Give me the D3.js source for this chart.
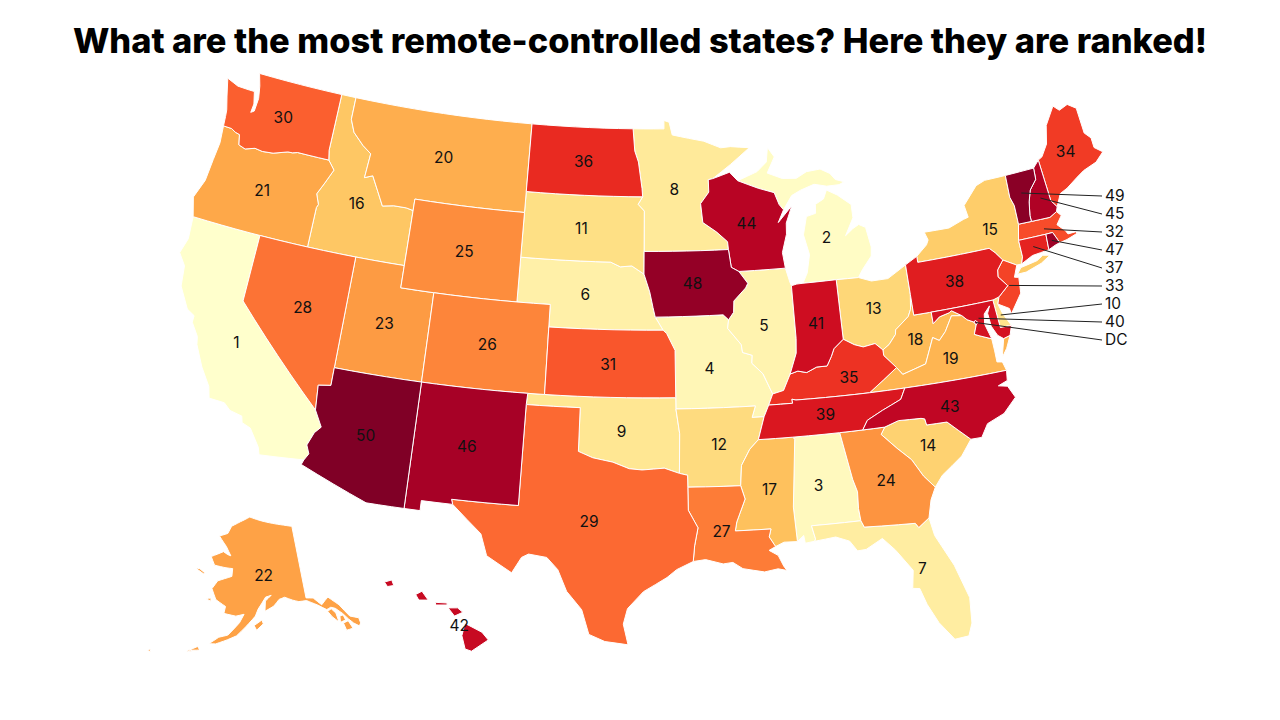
<!DOCTYPE html>
<html>
<head>
<meta charset="utf-8">
<script src="https://cdn.jsdelivr.net/npm/d3@7"></script>
<style>
  body { margin: 0; background: #fff; }
  text { font-family: "Inter", "Open Sans", sans-serif; fill: #111; }
  .title { fill: #000; }
</style>
</head>
<body>
<svg id="map" width="1280" height="720"></svg>
<script>
// Rank of every state, 1 = least remote-controlled
const stateIds = ["CA","MI","AL","MO","IL","NE","FL","MN","OK","DE","SD","AR","OH","SC","NY","ID","MS","WV","VA","MT","OR","AK","UT","GA","WY","CO","LA","NV","TX","WA","KS","MA","NJ","ME","KY","ND","CT","PA","TN","MD","IN","HI","NC","WI","NH","NM","RI","IA","VT","AZ"];
const stateRanks = d3.range(1, 51);
const dcRank = 46; // DC has no number in the picture, only its own dark fill

// Small states that are labelled at the right, top to bottom
const calloutIds = ["VT","NH","MA","RI","CT","NJ","DE","MD","DC"];
const calloutLabels = ["49","45","32","47","37","33","10","40","DC"];

const titleText = "What are the most remote-controlled states? Here they are ranked!";

// State outlines as [lon, lat] rings
const outlines = {
  WA: [[[-124.7,48.38],[-123.9,48.17],[-123.1,48.15],[-122.75,48.15],[-122.55,47.6],[-122.6,47.2],[-122.4,47.3],[-122.35,47.9],[-122.5,48.45],[-122.75,49],[-117.03,49],[-117.04,46.42],[-116.92,45.99],[-118.98,46],[-119.3,45.93],[-119.6,45.92],[-120.5,45.7],[-121.2,45.65],[-121.7,45.7],[-122.3,45.55],[-122.75,45.65],[-122.9,46.1],[-123.2,46.15],[-123.5,46.26],[-124.05,46.27],[-124.1,46.7],[-124.15,47],[-124.4,47.6]]],
  OR: [[[-124.05,46.27],[-123.5,46.26],[-123.2,46.15],[-122.9,46.1],[-122.75,45.65],[-122.3,45.55],[-121.7,45.7],[-121.2,45.65],[-120.5,45.7],[-119.6,45.92],[-119.3,45.93],[-118.98,46],[-116.92,45.99],[-116.46,45.6],[-116.85,44.95],[-117.2,44.4],[-116.95,43.95],[-117.03,43.8],[-117.03,42],[-124.21,42],[-124.55,42.84],[-124.15,43.7],[-124.05,44.7],[-123.95,45.5]]],
  CA: [[[-124.21,42],[-120,42],[-120,39],[-114.63,35],[-114.14,34.3],[-114.45,34],[-114.72,33.4],[-114.52,33.03],[-114.72,32.72],[-117.12,32.53],[-117.25,32.85],[-117.9,33.6],[-118.4,33.75],[-118.5,34.03],[-119.2,34.15],[-119.6,34.42],[-120.47,34.45],[-120.65,34.95],[-121.3,35.7],[-121.9,36.6],[-122,36.95],[-122.5,37.5],[-122.5,37.8],[-122.98,38],[-123.7,38.9],[-123.85,39.8],[-124.35,40.3],[-124.1,41]]],
  NV: [[[-120,42],[-114.04,42],[-114.05,36.2],[-114.75,36.1],[-114.63,35],[-120,39]]],
  ID: [[[-117.03,49],[-116.05,49],[-116.05,48],[-115.7,47.45],[-114.95,46.95],[-114.35,46.65],[-114.45,45.55],[-113.95,45.7],[-113.45,45.05],[-113,44.45],[-112.3,44.55],[-111.5,44.55],[-111.05,44.48],[-111.05,42],[-117.03,42],[-117.03,43.8],[-116.95,43.95],[-117.2,44.4],[-116.85,44.95],[-116.46,45.6],[-116.92,45.99],[-117.04,46.42]]],
  MT: [[[-116.05,49],[-104.05,49],[-104.05,45],[-111.05,45],[-111.05,44.48],[-111.5,44.55],[-112.3,44.55],[-113,44.45],[-113.45,45.05],[-113.95,45.7],[-114.45,45.55],[-114.35,46.65],[-114.95,46.95],[-115.7,47.45],[-116.05,48]]],
  WY: [[[-111.05,45],[-104.05,45],[-104.05,41],[-111.05,41]]],
  UT: [[[-114.04,42],[-111.05,42],[-111.05,41],[-109.05,41],[-109.05,37],[-114.05,37]]],
  CO: [[[-109.05,41],[-102.05,41],[-102.05,37],[-109.05,37]]],
  AZ: [[[-114.05,37],[-109.05,37],[-109.05,31.33],[-111.07,31.33],[-114.81,32.5],[-114.72,32.72],[-114.52,33.03],[-114.72,33.4],[-114.45,34],[-114.14,34.3],[-114.63,35],[-114.75,36.1],[-114.05,36.2]]],
  NM: [[[-109.05,37],[-103,37],[-103.04,36.5],[-103.06,32],[-106.62,32],[-106.53,31.78],[-108.2,31.78],[-108.2,31.33],[-109.05,31.33]]],
  TX: [[[-103.04,36.5],[-100,36.5],[-100,34.56],[-99.2,34.3],[-98.1,34.13],[-97.2,33.85],[-96.5,33.8],[-95.3,33.88],[-94.48,33.64],[-94.04,33.55],[-94.04,33.02],[-94.04,31.99],[-93.55,31.2],[-93.75,30.4],[-93.84,29.7],[-94.7,29.35],[-95.2,29],[-96.4,28.37],[-97.2,27.6],[-97.4,26.9],[-97.15,25.97],[-97.65,26.03],[-98.3,26.1],[-99.1,26.4],[-99.5,27.5],[-100.3,28.3],[-100.8,29.25],[-101.4,29.77],[-102.35,29.87],[-102.7,29.7],[-103.15,28.98],[-104.5,29.65],[-104.9,30.6],[-106.53,31.78],[-106.62,32],[-103.06,32]]],
  OK: [[[-103,37],[-102.05,37],[-94.62,37],[-94.62,36.5],[-94.43,35.4],[-94.48,33.64],[-95.3,33.88],[-96.5,33.8],[-97.2,33.85],[-98.1,34.13],[-99.2,34.3],[-100,34.56],[-100,36.5],[-103.04,36.5]]],
  KS: [[[-102.05,40],[-95.31,40],[-95.1,39.85],[-94.62,39.1],[-94.62,37],[-102.05,37]]],
  NE: [[[-104.05,43],[-98.5,43],[-97.9,42.8],[-97.2,42.85],[-96.45,42.49],[-96.1,41.7],[-95.9,41],[-95.77,40.58],[-95.31,40],[-102.05,40],[-102.05,41],[-104.05,41]]],
  SD: [[[-104.05,45.94],[-96.56,45.94],[-96.85,45.6],[-96.45,45.3],[-96.45,43.5],[-96.45,42.49],[-97.2,42.85],[-97.9,42.8],[-98.5,43],[-104.05,43]]],
  ND: [[[-104.05,49],[-97.23,49],[-97.1,48],[-96.85,47.5],[-96.6,46.3],[-96.56,45.94],[-104.05,45.94]]],
  MN: [[[-97.23,49],[-95.15,49],[-95.15,49.38],[-94.8,49.3],[-94.6,48.72],[-93.5,48.55],[-92.5,48.4],[-91.4,48.07],[-90.75,48.1],[-89.5,48],[-90.8,47.3],[-92,46.7],[-92.3,46.66],[-92.3,46.1],[-92.85,45.6],[-92.75,44.75],[-91.9,44.3],[-91.25,43.85],[-91.22,43.5],[-96.45,43.5],[-96.45,45.3],[-96.85,45.6],[-96.56,45.94],[-96.6,46.3],[-96.85,47.5],[-97.1,48]]],
  IA: [[[-96.45,43.5],[-91.22,43.5],[-91.1,42.7],[-90.65,42.5],[-90.15,41.95],[-90.3,41.75],[-91.05,41.2],[-91.1,40.7],[-91.42,40.38],[-91.73,40.61],[-95.77,40.58],[-95.9,41],[-96.1,41.7],[-96.45,42.49]]],
  MO: [[[-95.77,40.58],[-91.73,40.61],[-91.42,40.38],[-91.5,40],[-90.75,39.25],[-90.7,38.9],[-90.15,38.75],[-90.2,38.4],[-89.6,37.9],[-89.13,36.98],[-89.4,36.5],[-89.7,36],[-90.37,36],[-90.15,36.5],[-94.62,36.5],[-94.62,37],[-94.62,39.1],[-95.1,39.85],[-95.31,40]]],
  AR: [[[-94.62,36.5],[-90.15,36.5],[-90.37,36],[-89.7,36],[-90.1,35],[-90.6,34.6],[-91.1,33.9],[-91.2,33],[-94.04,33.02],[-94.04,33.55],[-94.48,33.64],[-94.43,35.4]]],
  LA: [[[-94.04,33.02],[-91.2,33],[-91,32.4],[-91.5,31.4],[-91.6,31],[-89.73,31],[-89.85,30.65],[-89.55,30.2],[-89.9,30.05],[-89.45,29.8],[-89.2,29.3],[-89.05,29.1],[-89.5,29.2],[-90.2,29.1],[-91.3,29.3],[-91.8,29.6],[-92.3,29.55],[-93.2,29.77],[-93.84,29.7],[-93.75,30.4],[-93.55,31.2],[-94.04,31.99]]],
  MS: [[[-90.1,35],[-88.2,35],[-88.1,34.9],[-88.47,31.9],[-88.4,30.35],[-89.1,30.37],[-89.55,30.2],[-89.85,30.65],[-89.73,31],[-91.6,31],[-91.5,31.4],[-91,32.4],[-91.2,33],[-91.1,33.9],[-90.6,34.6]]],
  AL: [[[-88.2,35],[-85.6,35],[-85.18,32.87],[-85,32.3],[-85.05,31.55],[-85,31],[-87.6,31],[-87.45,30.4],[-87.5,30.3],[-88,30.25],[-88.05,30.6],[-88.4,30.35],[-88.47,31.9],[-88.1,34.9]]],
  TN: [[[-89.4,36.5],[-88.05,36.5],[-88.07,36.68],[-87.85,36.63],[-83.68,36.6],[-81.68,36.59],[-82,36.12],[-83.1,35.75],[-84,35.4],[-84.32,35],[-85.6,35],[-88.2,35],[-90.1,35],[-89.7,36]]],
  KY: [[[-89.4,36.5],[-89.13,36.98],[-88.5,37.1],[-88.05,37.8],[-87.6,37.9],[-87.1,37.8],[-86.5,38],[-85.9,38],[-85.6,38.4],[-85.4,38.73],[-84.8,39.1],[-84.2,38.8],[-83.7,38.65],[-83,38.73],[-82.6,38.4],[-82.6,38.15],[-81.97,37.54],[-83.68,36.6],[-87.85,36.63],[-88.07,36.68],[-88.05,36.5]]],
  IL: [[[-90.65,42.5],[-87.8,42.5],[-87.6,41.85],[-87.53,41.7],[-87.53,39.35],[-87.6,38.7],[-88.05,37.8],[-88.5,37.1],[-89.13,36.98],[-89.6,37.9],[-90.2,38.4],[-90.15,38.75],[-90.7,38.9],[-90.75,39.25],[-91.5,40],[-91.42,40.38],[-91.1,40.7],[-91.05,41.2],[-90.3,41.75],[-90.15,41.95]]],
  IN: [[[-87.53,41.7],[-87.2,41.75],[-86.82,41.76],[-84.8,41.76],[-84.8,39.1],[-85.4,38.73],[-85.6,38.4],[-85.9,38],[-86.5,38],[-87.1,37.8],[-87.6,37.9],[-88.05,37.8],[-87.6,38.7],[-87.53,39.35]]],
  OH: [[[-84.8,41.76],[-83.45,41.73],[-82.7,41.5],[-81.7,41.5],[-80.52,41.98],[-80.52,40.64],[-80.65,40],[-80.85,39.7],[-81.7,39.2],[-81.75,39],[-82.2,38.6],[-82.6,38.4],[-83,38.73],[-83.7,38.65],[-84.2,38.8],[-84.8,39.1]]],
  MI: [[[-86.82,41.76],[-84.8,41.76],[-83.45,41.73],[-83.15,42.05],[-82.5,42.6],[-82.42,43],[-82.6,43.9],[-83,44.07],[-83.4,43.92],[-83.9,43.65],[-83.3,44.4],[-83.3,45],[-84.1,45.5],[-84.75,45.78],[-85,45.4],[-85.55,45.2],[-85.6,44.8],[-86.2,44.7],[-86.5,43.9],[-86.25,43],[-86.5,42.2]],
       [[-90.4,46.55],[-89.1,46.9],[-88.45,47.3],[-88.3,47.95],[-87.9,47.5],[-88.45,46.8],[-87.5,46.5],[-86.6,46.45],[-85.9,46.7],[-85,46.75],[-84.4,46.5],[-84.1,46.2],[-83.55,46.05],[-83.9,45.95],[-84.7,45.95],[-85.5,46.1],[-86.4,45.9],[-87,45.7],[-87.6,45.1],[-87.85,45.35],[-88.1,45.9],[-89.1,46.15]]],
  WI: [[[-92.3,46.66],[-92,46.7],[-90.9,46.95],[-90.4,46.55],[-89.1,46.15],[-88.1,45.9],[-87.85,45.35],[-87.6,45.1],[-88,44.55],[-87.05,45.25],[-87.5,44.5],[-87.55,44],[-87.9,43.2],[-87.8,42.5],[-90.65,42.5],[-91.1,42.7],[-91.22,43.5],[-91.25,43.85],[-91.9,44.3],[-92.75,44.75],[-92.85,45.6],[-92.3,46.1]]],
  PA: [[[-80.52,41.98],[-79.76,42.27],[-79.76,42],[-75.35,42],[-75.05,41.75],[-74.7,41.36],[-75.13,40.98],[-75.2,40.68],[-74.75,40.2],[-75.4,39.8],[-75.79,39.72],[-80.52,39.72],[-80.52,40.64]]],
  NY: [[[-79.76,42.27],[-79.05,42.7],[-78.9,42.9],[-79.05,43.27],[-77.5,43.25],[-76.5,43.5],[-76.2,43.55],[-76.3,44.1],[-75.3,44.85],[-74.7,45],[-73.35,45],[-73.4,44],[-73.25,43.6],[-73.27,42.75],[-73.5,42.05],[-73.5,41.3],[-73.65,41],[-73.95,41],[-74.7,41.36],[-75.05,41.75],[-75.35,42],[-79.76,42]],
       [[-74.03,40.6],[-73.75,40.85],[-72.7,40.98],[-72.3,41.15],[-71.88,41.07],[-72.5,40.82],[-73.5,40.6]]],
  VT: [[[-73.35,45],[-71.5,45.01],[-71.55,44.5],[-72.05,44.1],[-72.3,43.6],[-72.46,43],[-72.46,42.73],[-73.27,42.75],[-73.25,43.6],[-73.4,44]]],
  NH: [[[-71.5,45.01],[-71.08,45.3],[-70.98,43.4],[-70.7,43.07],[-70.82,42.87],[-71.3,42.7],[-72.46,42.73],[-72.46,43],[-72.3,43.6],[-72.05,44.1],[-71.55,44.5]]],
  ME: [[[-71.08,45.3],[-70.8,45.4],[-70.3,45.9],[-70,46.7],[-69.23,47.46],[-68.9,47.2],[-68.3,47.35],[-67.8,47.07],[-67.78,45.9],[-67.45,45.6],[-67.45,45.15],[-67,44.85],[-67.6,44.5],[-68.5,44.3],[-69,44.1],[-69.8,43.75],[-70.3,43.6],[-70.7,43.07],[-70.98,43.4]]],
  MA: [[[-73.5,42.05],[-73.27,42.75],[-72.46,42.73],[-71.3,42.7],[-70.82,42.87],[-70.6,42.65],[-71,42.3],[-70.6,41.95],[-70.5,41.78],[-70,41.78],[-70.25,42.06],[-69.95,41.7],[-70.65,41.55],[-71.12,41.5],[-71.2,41.67],[-71.38,42.02],[-71.8,42.02]]],
  RI: [[[-71.8,42.02],[-71.38,42.02],[-71.2,41.67],[-71.12,41.5],[-71.4,41.45],[-71.86,41.32]]],
  CT: [[[-73.5,42.05],[-71.8,42.02],[-71.86,41.32],[-72.9,41.25],[-73.65,41],[-73.5,41.3]]],
  NJ: [[[-74.7,41.36],[-73.95,41],[-74.25,40.5],[-74,40.45],[-74.1,39.75],[-74.9,38.95],[-74.95,39.2],[-75.55,39.5],[-75.4,39.8],[-74.75,40.2],[-75.2,40.68],[-75.13,40.98]]],
  DE: [[[-75.79,39.72],[-75.4,39.8],[-75.55,39.5],[-75.4,39.05],[-75.05,38.45],[-75.7,38.46]]],
  MD: [[[-79.48,39.72],[-75.79,39.72],[-75.7,38.46],[-75.05,38.45],[-75.25,38.03],[-75.65,37.95],[-75.95,38.15],[-76.2,38.6],[-76.25,39.2],[-76.05,39.5],[-76.45,39.2],[-76.55,38.75],[-76.4,38.3],[-76.32,38.05],[-77,38.3],[-77.25,38.4],[-77.04,38.79],[-77.12,38.93],[-77.5,39.1],[-77.75,39.32],[-78.3,39.62],[-78.45,39.55],[-79.05,39.45],[-79.48,39.2]]],
  DC: [[[-77.12,38.93],[-77.04,39],[-76.91,38.89],[-77.04,38.79]]],
  VA: [[[-83.68,36.6],[-81.68,36.59],[-75.87,36.55],[-76,36.95],[-76.3,37],[-76.3,37.5],[-76.32,38.05],[-77,38.3],[-77.25,38.4],[-77.04,38.79],[-77.12,38.93],[-77.5,39.1],[-77.75,39.32],[-78.35,39.4],[-78.87,38.76],[-79.3,38.42],[-79.65,38.6],[-80.3,37.5],[-81.68,37.2],[-81.97,37.54]],
       [[-75.25,38.03],[-75.65,37.95],[-75.95,37.15],[-75.6,37.5]]],
  WV: [[[-80.52,40.64],[-80.52,39.72],[-79.48,39.72],[-79.48,39.2],[-79.05,39.45],[-78.45,39.55],[-78.3,39.62],[-77.75,39.32],[-78.35,39.4],[-78.87,38.76],[-79.3,38.42],[-79.65,38.6],[-80.3,37.5],[-81.68,37.2],[-81.97,37.54],[-82.6,38.15],[-82.6,38.4],[-82.2,38.6],[-81.75,39],[-81.7,39.2],[-80.85,39.7],[-80.65,40]]],
  NC: [[[-84.32,35],[-84,35.4],[-83.1,35.75],[-82,36.12],[-81.68,36.59],[-75.87,36.55],[-75.95,36.1],[-76.5,35.95],[-76,35.85],[-75.7,35.3],[-76.5,34.7],[-77.5,34.4],[-77.95,33.85],[-78.55,33.86],[-79.67,34.8],[-80.8,34.82],[-80.85,35.1],[-81.05,35.15],[-82.3,35.2],[-83.1,35]]],
  SC: [[[-83.1,35],[-82.3,35.2],[-81.05,35.15],[-80.85,35.1],[-80.8,34.82],[-79.67,34.8],[-78.55,33.86],[-79.2,33.2],[-80.4,32.5],[-80.87,32.03],[-81.4,32.6],[-81.9,33.4],[-82.6,34],[-83.35,34.7]]],
  GA: [[[-85.6,35],[-84.32,35],[-83.1,35],[-83.35,34.7],[-82.6,34],[-81.9,33.4],[-81.4,32.6],[-80.87,32.03],[-81.2,31.5],[-81.45,30.72],[-82.05,30.36],[-82.2,30.57],[-84.86,30.7],[-85,31],[-85.05,31.55],[-85,32.3],[-85.18,32.87]]],
  FL: [[[-87.6,31],[-85,31],[-84.86,30.7],[-82.2,30.57],[-82.05,30.36],[-81.45,30.72],[-81.3,29.9],[-80.55,28.45],[-80.05,26.9],[-80.15,25.75],[-80.4,25.2],[-81.1,25.15],[-81.75,26],[-82.2,26.9],[-82.45,27.65],[-82.8,27.7],[-82.65,28.5],[-83.4,29.5],[-84,30.1],[-84.9,29.7],[-85.35,29.68],[-85.7,30.15],[-86.4,30.4],[-87.5,30.3],[-87.45,30.4]]],
  AK: [[[-141,69.65],[-141,60.3],[-139.2,60.1],[-137.5,59],[-136.5,59.4],[-135.5,59.75],[-134,58.8],[-133.4,58.4],[-131.8,56.6],[-130,56],[-130,55.3],[-130.5,55],[-131.5,55.6],[-132.3,56.3],[-133.2,57.2],[-134.5,58.1],[-135.5,58.4],[-136.6,58.25],[-138.5,59.1],[-139.8,59.55],[-141,59.95],[-143,60],[-144.5,60.3],[-146.5,60.8],[-148,60.6],[-149.5,59.8],[-151.8,59.2],[-151.6,60.5],[-150,61.2],[-151.5,61],[-153.5,59.5],[-154.2,58.6],[-156.5,57.2],[-158.5,56],[-160.5,55.4],[-163,54.7],[-164.5,54.6],[-162.5,55.6],[-160.5,56],[-158,57.7],[-157,58.8],[-159,58.5],[-162,58.7],[-161.8,59.6],[-164.5,60.3],[-166,61.6],[-164.8,62.7],[-163,63.1],[-161,63.5],[-161,64.5],[-163,64.5],[-166.5,64.6],[-168,65.6],[-164.5,66.5],[-163,66.2],[-162,66.1],[-163.8,67.2],[-166.7,68.4],[-164,68.9],[-163,69.9],[-160,70.6],[-156.5,71.3],[-152,70.8],[-148,70.4],[-144,70]],
       [[-154.5,57.4],[-153.9,56.8],[-152.3,57.6],[-152.6,58.1]],
       [[-171.7,63.7],[-169,63.2],[-168.9,63.4],[-170.5,63.75]],
       [[-167,60.2],[-165.7,60],[-165.8,60.4]],
       [[-168.5,53.3],[-166.2,53.6],[-166.8,54]],
       [[-169,53],[-167.8,53.3],[-168.3,53.5]],
       [[-133.5,55],[-132,55],[-132.5,56.1],[-133.7,56]],
       [[-134.3,56.2],[-133,56.3],[-133.2,57],[-134,57]],
       [[-135.8,57.2],[-134.6,56.3],[-134.7,57.5],[-135.5,58.2],[-136.5,58]],
       [[-176.9,51.8],[-176.1,51.8],[-176.4,52.1]]],
  HI: [[[-155.9,20.25],[-155.1,19.85],[-154.8,19.5],[-155.6,19],[-155.9,19.1],[-156.05,19.7]],
       [[-156.7,20.95],[-156.25,20.95],[-156,20.75],[-156.4,20.58]],
       [[-158.25,21.55],[-157.95,21.7],[-157.65,21.3],[-158.1,21.3]],
       [[-159.75,22.1],[-159.4,22.2],[-159.3,21.95],[-159.6,21.9]],
       [[-157.3,21.2],[-156.75,21.17],[-156.75,21.08],[-157.3,21.08]]]
};

// Centroids do not always fall where the picture has the number, these shift them
const labelNudge = {
  MN: [-4, 1], NY: [8, 1], CA: [-5, 0], SD: [-3, 0], NE: [-3, 0], IL: [-3, 1],
  MO: [-4, 2], OK: [-3, 2], AR: [3, 1], AL: [-4, 1], LA: [-7, 1], FL: [6, 2],
  KY: [10, 2], MI: [5, 12], KS: [-2, 1], AK: [2, 2], NV: [2, 0], NC: [-2, 2]
};

const svg = d3.select("#map");

// Add points along long edges so borders follow the parallels on the projection
function densify(ring) {
  const result = [];
  ring.forEach((p, i) => {
    const next = ring[(i + 1) % ring.length];
    const steps = Math.max(Math.ceil(Math.abs(next[0] - p[0])), 1);
    for (let s = 0; s < steps; s++) {
      const t = s / steps;
      result.push([p[0] + (next[0] - p[0]) * t, p[1] + (next[1] - p[1]) * t]);
    }
  });
  result.push(result[0]);
  return result;
}

// d3.geo wants clockwise rings, otherwise the polygon covers the globe
function toFeature(id) {
  const polygons = outlines[id].map(ring => {
    let closed = densify(ring);
    if (d3.geoArea({ type: "Polygon", coordinates: [closed] }) > 2 * Math.PI) closed = closed.reverse();
    return [closed];
  });
  return { type: "Feature", id, geometry: { type: "MultiPolygon", coordinates: polygons } };
}

const rankById = new Map(stateIds.map((id, i) => [id, stateRanks[i]]));
rankById.set("DC", dcRank);

const features = Array.from(rankById.keys()).map(toFeature);

const projection = d3.geoAlbersUsa().scale(1280).translate([641, 359.5]);
const path = d3.geoPath(projection);
const color = d3.scaleSequential(d3.interpolateYlOrRd).domain([1, 50]);

svg.append("text")
  .attr("class", "title")
  .attr("x", 640)
  .attr("y", 53)
  .attr("text-anchor", "middle")
  .attr("font-size", 34.4)
  .attr("font-weight", 800)
  .text(titleText);

// State shapes
svg.append("g").selectAll("path")
  .data(features)
  .join("path")
  .attr("d", path)
  .attr("fill", d => color(rankById.get(d.id)))
  .attr("stroke", "#fff")
  .attr("stroke-width", 1);

// Numbers placed inside the bigger states
const inlineFeatures = features.filter(d => !calloutIds.includes(d.id));
const nudge = id => labelNudge[id] || [0, 0];

svg.append("g").selectAll("text")
  .data(inlineFeatures)
  .join("text")
  .attr("x", d => path.centroid(d)[0] + nudge(d.id)[0])
  .attr("y", d => path.centroid(d)[1] + nudge(d.id)[1])
  .attr("dy", "0.35em")
  .attr("text-anchor", "middle")
  .attr("font-size", 15.5)
  .text(d => rankById.get(d.id));

// Leader lines for the small eastern states
const calloutY = d3.scalePoint().domain(calloutIds).range([196, 340]);
const callouts = svg.append("g");

calloutIds.forEach((id, i) => {
  const start = path.centroid(features.find(d => d.id === id));
  callouts.append("line")
    .attr("x1", start[0])
    .attr("y1", start[1])
    .attr("x2", 1102)
    .attr("y2", calloutY(id))
    .attr("stroke", "#222")
    .attr("stroke-width", 1);
  callouts.append("text")
    .attr("x", 1105)
    .attr("y", calloutY(id))
    .attr("dy", "0.35em")
    .attr("font-size", 15.5)
    .text(calloutLabels[i]);
});
</script>
</body>
</html>
